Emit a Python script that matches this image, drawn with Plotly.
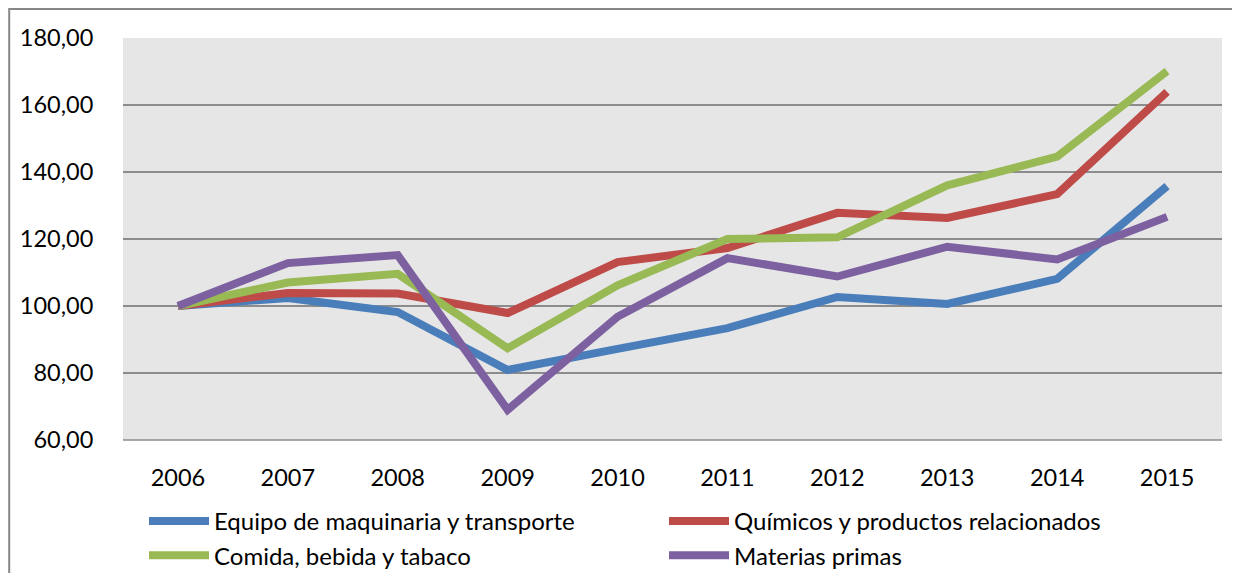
import plotly.graph_objects as go

years = ["2006", "2007", "2008", "2009", "2010", "2011", "2012", "2013", "2014", "2015"]

equipo = [100.0, 102.4, 98.2, 80.9, 87.2, 93.4, 102.7, 100.6, 108.1, 135.8]
quimicos = [100.0, 103.9, 103.7, 97.9, 113.1, 117.3, 127.8, 126.3, 133.4, 163.9]
comida = [100.0, 107.0, 109.6, 87.4, 106.2, 120.0, 120.5, 136.0, 144.6, 170.1]
materias = [100.0, 112.8, 115.2, 69.0, 96.8, 114.3, 108.8, 117.7, 113.9, 126.6]

names = ["Equipo de maquinaria y transporte", "Químicos y productos relacionados",
         "Comida, bebida y tabaco", "Materias primas"]
colors = ["#4A7EBB", "#BE4B48", "#98B954", "#7D60A0"]
series = [equipo, quimicos, comida, materias]

FONT = "Lato"
OFF = 8  # page body offset
W, H = 1240 - OFF, 573 - OFF


def px(x):
    return (x - OFF) / W


def py(y):
    return 1 - (y - OFF) / H


fig = go.Figure()
for nm, vals, col in zip(names, series, colors):
    fig.add_trace(go.Scatter(x=years, y=vals, name=nm, mode="lines",
                             line=dict(color=col, width=8)))

fig.update_layout(
    width=W, height=H,
    margin=dict(l=0, r=0, t=0, b=0, autoexpand=False),
    paper_bgcolor="white",
    plot_bgcolor="#E6E6E6",
    separators=",.",
    font=dict(family=FONT, size=23.5, color="#000000"),
    xaxis=dict(type="category", range=[-0.5, 9.5], showgrid=False,
               domain=[px(123), px(1222)],
               showline=False, zeroline=False,
               ticks="outside", ticklen=17, tickcolor="rgba(0,0,0,0)",
               tickfont=dict(family=FONT, size=23.5, color="#000")),
    yaxis=dict(range=[60, 180], dtick=20, tick0=60, tickformat=".2f",
               domain=[py(440), py(38)],
               showgrid=True, gridcolor="#8C8C8C", gridwidth=1.5,
               zeroline=False, showline=False,
               ticks="outside", ticklen=24, tickcolor="rgba(0,0,0,0)",
               tickfont=dict(family=FONT, size=23.5, color="#000")),
    legend=dict(orientation="h", x=px(144), xanchor="left", y=py(499), yanchor="top",
                entrywidth=445, entrywidthmode="pixels",
                font=dict(family=FONT, size=24, color="#000"),
                bgcolor="rgba(0,0,0,0)", tracegroupgap=0, itemwidth=60),
    showlegend=True,
)

# bottom axis line at 60
fig.add_shape(type="line", xref="paper", yref="paper",
              x0=px(123), x1=px(1222), y0=py(440), y1=py(440),
              line=dict(color="#8C8C8C", width=1.5))
# chart outer border
fig.add_shape(type="rect", xref="paper", yref="paper",
              x0=1.2 / W, x1=1.02, y0=-0.05, y1=py(9),
              line=dict(color="#878787", width=2), layer="below")

fig.write_html("out.html")
